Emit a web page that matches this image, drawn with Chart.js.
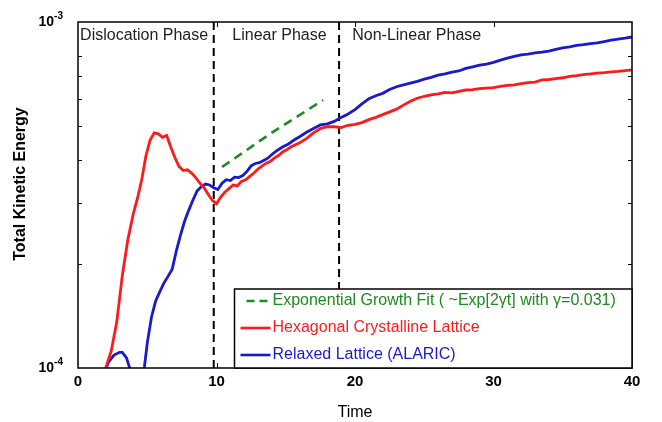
<!DOCTYPE html>
<html>
<head>
<meta charset="utf-8">
<script src="https://cdn.jsdelivr.net/npm/chart.js@4"></script>
<style>
  html, body { margin: 0; padding: 0; background: #fff; }
  #wrap { width: 662px; height: 422px; }
</style>
</head>
<body>
<div id="wrap"><canvas id="chart" width="662" height="422"></canvas></div>
<script>
// Hexagonal crystalline lattice run (time, kinetic energy)
const hexTime = [1.8, 2.0, 2.4, 2.8, 3.2, 3.6, 4.0, 4.3, 4.6, 4.9, 5.2, 5.5, 5.8, 6.1, 6.4, 6.7, 7.0, 7.3, 7.6, 7.9,
  8.2, 8.5, 8.8, 9.1, 9.4, 9.7, 10.0, 10.3, 10.6, 10.9, 11.2, 11.5, 11.8, 12.1, 12.4, 12.7, 13.0, 13.3, 13.6, 13.9,
  14.2, 14.5, 14.8, 15.1, 15.4, 15.7, 16.0, 16.5, 17.0, 17.5, 18.0, 18.5, 19.0, 19.5, 20.0, 20.5, 21.0, 21.5, 22.0, 22.5,
  23.0, 23.5, 24.0, 24.5, 25.0, 25.5, 26.0, 26.5, 27.0, 27.5, 28.0, 28.5, 29.0, 29.5, 30.0, 30.5, 31.0, 31.5, 32.0, 32.5,
  33.0, 33.5, 34.0, 34.5, 35.0, 35.5, 36.0, 36.5, 37.0, 37.5, 38.0, 38.5, 39.0, 39.5, 40.0];
const hexEnergy = [0.90, 1.00, 1.12, 1.36, 1.85, 2.35, 2.80, 3.10, 3.50, 4.10, 4.55, 4.78, 4.75, 4.64, 4.70, 4.35, 4.05, 3.82, 3.72, 3.74,
  3.66, 3.55, 3.42, 3.32, 3.18, 3.05, 2.98, 3.12, 3.22, 3.30, 3.38, 3.36, 3.46, 3.50, 3.58, 3.66, 3.76, 3.84, 3.91, 3.96,
  4.05, 4.12, 4.22, 4.28, 4.36, 4.42, 4.48, 4.60, 4.78, 4.92, 4.98, 4.98, 4.95, 5.03, 5.06, 5.12, 5.22, 5.30, 5.40, 5.50,
  5.60, 5.75, 5.90, 6.02, 6.10, 6.16, 6.20, 6.26, 6.24, 6.30, 6.36, 6.38, 6.42, 6.44, 6.46, 6.52, 6.56, 6.58, 6.64, 6.68,
  6.70, 6.80, 6.82, 6.86, 6.90, 6.96, 7.00, 7.05, 7.08, 7.12, 7.14, 7.18, 7.20, 7.24, 7.27].map(v => v * 1e-4);

// Relaxed lattice (ALARIC) run
const relTime = [1.9, 2.2, 2.6, 3.0, 3.2, 3.5, 3.8, 4.2, 4.5, 4.8, 5.0, 5.3, 5.6, 5.9, 6.2, 6.5, 6.8, 7.1, 7.4, 7.7,
  8.0, 8.3, 8.6, 8.9, 9.2, 9.5, 9.8, 10.1, 10.4, 10.7, 11.0, 11.3, 11.6, 11.9, 12.2, 12.5, 12.8, 13.1, 13.4, 13.7,
  14.0, 14.4, 14.8, 15.2, 15.6, 16.0, 16.5, 17.0, 17.5, 18.0, 18.5, 19.0, 19.5, 20.0, 20.5, 21.0, 21.5, 22.0, 22.5, 23.0,
  23.5, 24.0, 24.5, 25.0, 25.5, 26.0, 26.5, 27.0, 27.5, 28.0, 28.5, 29.0, 29.5, 30.0, 30.5, 31.0, 31.5, 32.0, 32.5, 33.0,
  33.5, 34.0, 34.5, 35.0, 35.5, 36.0, 36.5, 37.0, 37.5, 38.0, 38.5, 39.0, 39.5, 40.0];
const relEnergy = [0.96, 1.04, 1.09, 1.11, 1.11, 1.07, 0.98, 0.82, 0.88, 1.01, 1.18, 1.40, 1.56, 1.66, 1.76, 1.84, 1.93, 2.18, 2.42, 2.66,
  2.86, 3.06, 3.25, 3.34, 3.40, 3.38, 3.32, 3.28, 3.42, 3.50, 3.48, 3.56, 3.55, 3.60, 3.70, 3.84, 3.90, 3.92, 3.98, 4.04,
  4.14, 4.26, 4.36, 4.44, 4.56, 4.66, 4.80, 4.92, 5.04, 5.08, 5.16, 5.30, 5.42, 5.58, 5.80, 6.00, 6.12, 6.22, 6.38, 6.50,
  6.58, 6.66, 6.74, 6.84, 6.92, 7.02, 7.08, 7.16, 7.22, 7.34, 7.42, 7.50, 7.56, 7.64, 7.76, 7.86, 7.96, 8.04, 8.08, 8.14,
  8.18, 8.24, 8.34, 8.42, 8.48, 8.56, 8.60, 8.66, 8.70, 8.78, 8.86, 8.92, 8.98, 9.05].map(v => v * 1e-4);

// exponential growth fit over the linear phase
const fitTime = [10.4, 13.9, 17.7];
const fitEnergy = [3.81e-4, 4.76e-4, 5.95e-4];

// phase boundaries and titles
const phaseBounds = [9.8, 18.85];
const phaseNames = ['Dislocation Phase', 'Linear Phase', 'Non-Linear Phase'];
const phaseAnchor = [0.15, 14.55, 19.8];

const xTicks = [0, 10, 20, 30, 40];
const yMinorTicks = [2e-4, 3e-4, 4e-4, 5e-4, 6e-4, 7e-4, 8e-4];
const yRange = [1e-4, 1e-3];

const legendItems = [
  { text: 'Exponential Growth Fit ( ~Exp[2\u03b3t] with \u03b3=0.031)', color: '#1f8a1f', dash: [8, 5] },
  { text: 'Hexagonal Crystalline Lattice', color: '#ff1a1a', dash: [] },
  { text: 'Relaxed Lattice (ALARIC)', color: '#1a1acc', dash: [] }
];

const FONT = '"Liberation Sans", Arial, Helvetica, sans-serif';

function pts(xs, ys) {
  return xs.map((x, i) => ({ x: x, y: ys[i] }));
}

const datasets = [
  { data: pts(hexTime, hexEnergy), borderColor: '#ff1a1a', borderWidth: 2.8 },
  { data: pts(relTime, relEnergy), borderColor: '#1a1acc', borderWidth: 2.8 },
  { data: pts(fitTime, fitEnergy), borderColor: '#1f8a1f', borderWidth: 2.6, borderDash: [9, 6] }
];
phaseBounds.forEach(t => {
  datasets.push({ data: [{ x: t, y: yRange[0] }, { x: t, y: yRange[1] }], borderColor: '#000', borderWidth: 2, borderDash: [8, 5] });
});
datasets.forEach(d => { d.pointRadius = 0; d.tension = 0; d.fill = false; });

// frame, inward ticks, log labels, phase titles, legend box
const decorations = {
  id: 'decorations',
  afterDraw(chart) {
    const ctx = chart.ctx;
    const a = chart.chartArea;
    const xs = chart.scales.x, ys = chart.scales.y;
    ctx.save();
    ctx.strokeStyle = '#000';
    ctx.lineWidth = 1.5;
    ctx.strokeRect(a.left, a.top, a.right - a.left, a.bottom - a.top);

    ctx.lineWidth = 1;
    ctx.beginPath();
    xTicks.slice(1, -1).forEach(t => {
      const px = Math.round(xs.getPixelForValue(t)) + 0.5;
      ctx.moveTo(px, a.bottom); ctx.lineTo(px, a.bottom - 5);
      ctx.moveTo(px, a.top); ctx.lineTo(px, a.top + 5);
    });
    yMinorTicks.forEach(v => {
      const py = Math.round(ys.getPixelForValue(v)) + 0.5;
      ctx.moveTo(a.left, py); ctx.lineTo(a.left + 4, py);
      ctx.moveTo(a.right, py); ctx.lineTo(a.right - 4, py);
    });
    ctx.stroke();

    // 10^-n labels
    ctx.fillStyle = '#000';
    ctx.textBaseline = 'middle';
    yRange.forEach(v => {
      const py = ys.getPixelForValue(v);
      const exp = String(Math.round(Math.log10(v)));
      ctx.font = 'bold 10px ' + FONT;
      const ew = ctx.measureText(exp).width;
      ctx.textAlign = 'right';
      ctx.fillText(exp, a.left - 15, py - 6);
      ctx.font = 'bold 14px ' + FONT;
      ctx.fillText('10', a.left - 15 - ew, py);
    });

    // y title
    ctx.save();
    ctx.translate(21, (a.top + a.bottom) / 2 - 11);
    ctx.rotate(-Math.PI / 2);
    ctx.textAlign = 'center';
    ctx.font = 'bold 16px ' + FONT;
    ctx.fillText('Total Kinetic Energy', 0, 0);
    ctx.restore();

    // phase titles
    ctx.font = '16px ' + FONT;
    ctx.fillStyle = '#222';
    phaseNames.forEach((name, i) => {
      ctx.textAlign = i === 1 ? 'center' : 'left';
      ctx.fillText(name, xs.getPixelForValue(phaseAnchor[i]), a.top + 14);
    });

    // legend
    const bx = xs.getPixelForValue(11.3), by = a.bottom - 79;
    ctx.fillStyle = '#fff';
    ctx.fillRect(bx, by, a.right - bx, a.bottom - by);
    ctx.strokeStyle = '#000';
    ctx.lineWidth = 1.5;
    ctx.strokeRect(bx, by, a.right - bx, a.bottom - by);
    ctx.font = '16px ' + FONT;
    ctx.textAlign = 'left';
    legendItems.forEach((item, i) => {
      const cy = by + 12 + i * 27;
      ctx.strokeStyle = item.color;
      ctx.lineWidth = 2.6;
      ctx.setLineDash(item.dash);
      ctx.beginPath();
      ctx.moveTo(bx + (item.dash.length ? 12 : 6), cy);
      ctx.lineTo(bx + 36, cy);
      ctx.stroke();
      ctx.setLineDash([]);
      ctx.fillStyle = item.color;
      ctx.fillText(item.text, bx + 38, cy);
    });
    ctx.restore();
  }
};

new Chart(document.getElementById('chart'), {
  type: 'line',
  data: { datasets: datasets },
  options: {
    responsive: false,
    animation: false,
    devicePixelRatio: 1,
    layout: { padding: { top: 22, right: 30, left: 0, bottom: 0 } },
    plugins: { legend: { display: false }, tooltip: { enabled: false } },
    scales: {
      x: {
        type: 'linear', min: 0, max: 40,
        grid: { display: false, drawTicks: false, tickLength: 0 },
        border: { display: false },
        afterBuildTicks: s => { s.ticks = xTicks.map(v => ({ value: v })); },
        afterFit: s => { s.height = 54; },
        ticks: { color: '#000', font: { family: FONT, size: 15, weight: 'bold' }, padding: 5, maxRotation: 0 },
        title: { display: true, text: 'Time', color: '#000', font: { family: FONT, size: 16 }, padding: { top: 0, bottom: 0 } }
      },
      y: {
        type: 'logarithmic', min: yRange[0], max: yRange[1],
        grid: { display: false },
        border: { display: false },
        ticks: { display: false },
        afterFit: s => { s.width = 78; }
      }
    }
  },
  plugins: [decorations]
});
</script>
</body>
</html>
